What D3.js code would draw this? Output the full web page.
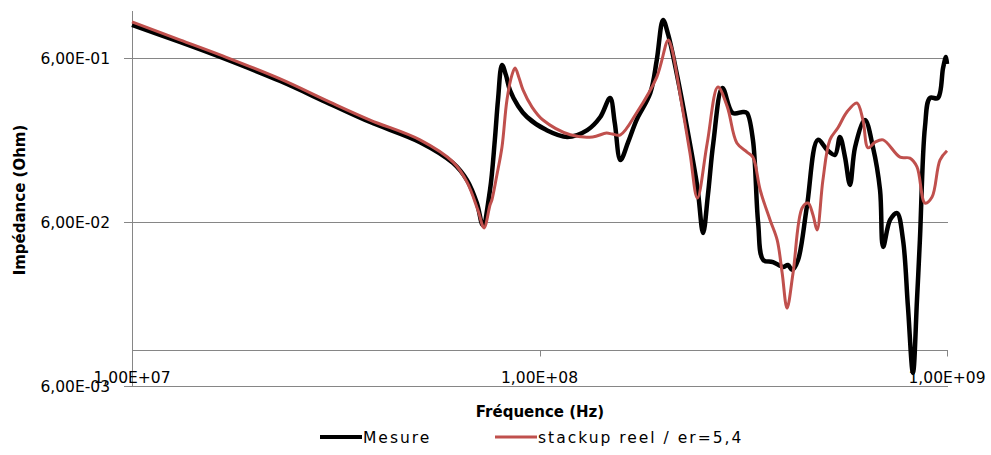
<!DOCTYPE html>
<html>
<head>
<meta charset="utf-8">
<script src="https://cdn.jsdelivr.net/npm/d3@7"></script>
<style>
  body { margin: 0; background: #fff; }
  svg text { font-family: "DejaVu Sans", Verdana, sans-serif; fill: #000; }
</style>
</head>
<body>
<div id="chart"></div>
<script>
// --------------- Data --------------- //

// Mesure: frequency (MHz) and impedance (Ohm)
const mesureFreq = [10.0, 13.1, 16.7, 23.1, 30.6, 38.4, 50.9, 61.4, 66.4, 70.2,
    72.6, 75.6, 77.7, 79.1, 80.9, 82.7, 84.6, 88.6, 93.2, 104,
    117, 131, 141, 149, 153, 158, 165, 173, 187, 194,
    201, 207, 218, 230, 244, 252, 259, 267, 281, 298,
    316, 323, 334, 344, 354, 374, 396, 407, 417, 431,
    453, 482, 508, 531, 546, 562, 578, 595, 629, 658,
    685, 697, 725, 754, 780, 802, 825, 844, 858, 883,
    908, 950, 978, 994, 1000];
const mesureZ = [0.953, 0.751, 0.600, 0.434, 0.315, 0.244, 0.184, 0.137, 0.108, 0.0783,
    0.0575, 0.094, 0.190, 0.333, 0.544, 0.473, 0.383, 0.306, 0.262, 0.218,
    0.198, 0.218, 0.262, 0.342, 0.241, 0.143, 0.184, 0.251, 0.367, 0.583,
    1.023, 0.829, 0.459, 0.228, 0.098, 0.0514, 0.0877, 0.182, 0.394, 0.277,
    0.281, 0.277, 0.190, 0.0592, 0.0352, 0.0342, 0.0319, 0.0328, 0.0306, 0.0352,
    0.0741, 0.190, 0.165, 0.154, 0.198, 0.149, 0.101, 0.172, 0.251, 0.172,
    0.094, 0.0423, 0.0617, 0.0680, 0.0466, 0.0182, 0.0072, 0.0201, 0.0466, 0.228,
    0.342, 0.342, 0.521, 0.608, 0.551];

// stackup reel / er=5,4
const simFreq = [10.0, 13.1, 16.7, 23.1, 30.6, 38.4, 50.9, 61.4, 66.4, 70.6,
    73.1, 75.6, 76.4, 78.6, 80.9, 83.2, 85.6, 87.1, 89.1, 91.1,
    95.8, 102, 119, 135, 146, 151, 158, 173, 194, 207,
    211, 221, 234, 244, 258, 274, 289, 305, 323, 334,
    348, 368, 383, 394, 405, 419, 441, 456, 469, 480,
    496, 516, 540, 568, 601, 622, 640, 666, 697, 767,
    811, 844, 883, 919, 961, 1000];
const simZ = [0.995, 0.773, 0.617, 0.447, 0.323, 0.251, 0.190, 0.139, 0.105, 0.0710,
    0.0552, 0.0762, 0.0817, 0.116, 0.172, 0.333, 0.473, 0.521, 0.453, 0.383,
    0.302, 0.251, 0.204, 0.198, 0.209, 0.206, 0.204, 0.277, 0.459, 0.773,
    0.691, 0.367, 0.158, 0.0840, 0.182, 0.399, 0.302, 0.182, 0.160, 0.149,
    0.094, 0.0617, 0.0466, 0.0293, 0.0179, 0.0293, 0.0730, 0.0783, 0.0662, 0.0536,
    0.108, 0.190, 0.225, 0.281, 0.319, 0.251, 0.170, 0.184, 0.190, 0.149,
    0.147, 0.130, 0.0783, 0.0852, 0.143, 0.163];

const xTicks = [1e7, 1e8, 1e9];
const yTicks = [6e-3, 6e-2, 6e-1];
const seriesNames = ["Mesure", "stackup reel / er=5,4"];
const seriesColors = ["#000000", "#c0504d"];

// --------------- Setup --------------- //

const width = 991,
    height = 455;

const svg = d3.select("#chart")
    .append("svg")
    .attr("width", width)
    .attr("height", height);

const x = d3.scaleLog()
    .domain([1e7, 1e9])
    .range([132, 947]);

const y = d3.scaleLog()
    .domain([6e-3, 1.16])
    .range([386, 11]);

const fmt = v => v.toExponential(2).replace(".", ",").replace(/e([+-])(\d)$/, "E$10$2").toUpperCase();

const gridColor = "#868686";

// --------------- Grid & axes --------------- //

// horizontal gridlines (incl. the bottom one at 6E-03)
svg.append("g")
    .selectAll("line")
    .data(yTicks)
    .join("line")
    .attr("x1", 124)
    .attr("x2", 948)
    .attr("y1", d => Math.round(y(d)) + 0.5)
    .attr("y2", d => Math.round(y(d)) + 0.5)
    .attr("stroke", gridColor);

// y labels
svg.append("g")
    .selectAll("text")
    .data(yTicks)
    .join("text")
    .attr("x", 110)
    .attr("y", d => y(d))
    .attr("dy", "0.36em")
    .attr("text-anchor", "end")
    .style("font-size", "15.5px")
    .text(fmt);

// y axis line
svg.append("line")
    .attr("x1", 132.5).attr("x2", 132.5)
    .attr("y1", 11).attr("y2", 386)
    .attr("stroke", gridColor);

// x axis crosses at 0.01
const xAxisY = Math.round(y(0.01)) + 0.5;
svg.append("line")
    .attr("x1", 132).attr("x2", 948)
    .attr("y1", xAxisY).attr("y2", xAxisY)
    .attr("stroke", gridColor);

svg.append("g")
    .selectAll("line")
    .data(xTicks)
    .join("line")
    .attr("x1", d => Math.round(x(d)) + 0.5)
    .attr("x2", d => Math.round(x(d)) + 0.5)
    .attr("y1", xAxisY)
    .attr("y2", xAxisY + 6)
    .attr("stroke", gridColor);

svg.append("g")
    .selectAll("text")
    .data(xTicks)
    .join("text")
    .attr("x", d => x(d))
    .attr("y", 383)
    .attr("text-anchor", "middle")
    .style("font-size", "15.5px")
    .text(fmt);

// --------------- Lines --------------- //

const line = d3.line()
    .x(d => x(d[0] * 1e6))
    .y(d => y(d[1]))
    .curve(d3.curveCatmullRom.alpha(0.5));

const mesure = d3.zip(mesureFreq, mesureZ);
const sim = d3.zip(simFreq, simZ);

svg.append("path")
    .datum(mesure)
    .attr("d", line)
    .attr("fill", "none")
    .attr("stroke", seriesColors[0])
    .attr("stroke-width", 4.5)
    .attr("stroke-linejoin", "round");

svg.append("path")
    .datum(sim)
    .attr("d", line)
    .attr("fill", "none")
    .attr("stroke", seriesColors[1])
    .attr("stroke-width", 3)
    .attr("stroke-linejoin", "round");

// --------------- Titles --------------- //

svg.append("text")
    .attr("x", 540)
    .attr("y", 417)
    .attr("text-anchor", "middle")
    .style("font-size", "15px")
    .style("font-weight", "bold")
    .text("Fréquence (Hz)");

svg.append("text")
    .attr("transform", "translate(25,200) rotate(-90)")
    .attr("text-anchor", "middle")
    .style("font-size", "15px")
    .style("font-weight", "bold")
    .text("Impédance (Ohm)");

// --------------- Legend --------------- //

const legendX = [320, 495];
const legend = svg.append("g")
    .selectAll("g")
    .data(seriesNames)
    .join("g")
    .attr("transform", (d, i) => `translate(${legendX[i]},437)`);

legend.append("line")
    .attr("x1", 0).attr("x2", 42)
    .attr("stroke", (d, i) => seriesColors[i])
    .attr("stroke-width", (d, i) => i === 0 ? 4 : 3);

legend.append("text")
    .attr("x", 43)
    .attr("dy", "0.36em")
    .style("font-size", "15.5px")
    .style("letter-spacing", "2px")
    .text(d => d);
</script>
</body>
</html>
